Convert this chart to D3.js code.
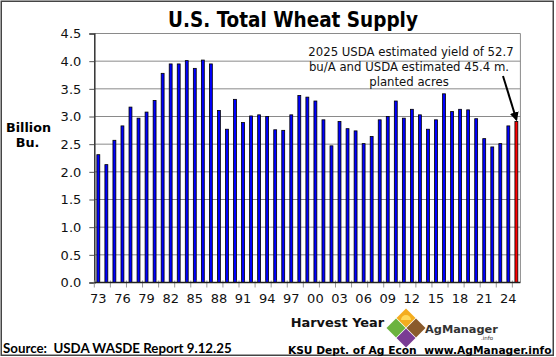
<!DOCTYPE html>
<html><head><meta charset="utf-8">
<script src="https://cdn.jsdelivr.net/npm/d3@7"></script>
<style>body{margin:0;background:#fff}svg{display:block}text{white-space:pre}</style>
</head><body>
<svg id="c" width="556" height="357"></svg>
<script>
const years = ["73","74","75","76","77","78","79","80","81","82","83","84","85","86","87","88","89","90","91","92","93","94","95","96","97","98","99","00","01","02","03","04","05","06","07","08","09","10","11","12","13","14","15","16","17","18","19","20","21","22","23","24","25"];
const supply = [2.31,2.13,2.57,2.83,3.17,2.97,3.08,3.29,3.78,3.95,3.95,4.01,3.87,4.02,3.95,3.11,2.77,3.31,2.89,3.01,3.03,3.00,2.76,2.75,3.03,3.38,3.35,3.28,2.94,2.47,2.91,2.78,2.74,2.51,2.64,2.94,3.00,3.28,2.97,3.13,3.03,2.77,2.94,3.41,3.09,3.13,3.12,2.96,2.60,2.45,2.51,2.83,2.91];
const yTicks = [0,0.5,1.0,1.5,2.0,2.5,3.0,3.5,4.0,4.5];
const xLabels = ["73","76","79","82","85","88","91","94","97","00","03","06","09","12","15","18","21","24"];
const highlightYear = "25";
const titleText = "U.S. Total Wheat Supply";
const yLabelLines = ["Billion","Bu."];
const xTitleText = "Harvest Year";
const noteLines = ["2025 USDA estimated yield of 52.7","bu/A and USDA estimated 45.4 m.","planted acres"];
const sourceText = "Source:  USDA WASDE Report 9.12.25";
const creditText = "KSU Dept. of Ag Econ  www.AgManager.info";

const svg = d3.select("#c");
const L = 94.3, R = 520.4, T = 33.5, B = 282.5;
const x = d3.scaleBand().domain(years).range([L, R]).paddingInner(0.54).paddingOuter(0.27);
const y = d3.scaleLinear().domain([0, 4.5]).range([B, T]);

function fit(sel, w) {
  const l = sel.node().getComputedTextLength();
  const fs = parseFloat(sel.attr("font-size"));
  sel.attr("font-size", fs * w / l);
  return fs * w / l;
}

// outer frame
svg.append("rect").attr("x", 1.25).attr("y", 1.25).attr("width", 552).attr("height", 354)
  .attr("fill", "none").attr("stroke", "#444").attr("stroke-width", 1.5);

// gridlines
svg.append("g").selectAll("line").data(yTicks.filter(d => d > 0)).join("line")
  .attr("x1", L).attr("x2", R).attr("y1", d => y(d)).attr("y2", d => y(d))
  .attr("stroke", "#8a8a8a").attr("stroke-width", 1);
// right border
svg.append("line").attr("x1", R).attr("x2", R).attr("y1", T).attr("y2", B)
  .attr("stroke", "#8a8a8a").attr("stroke-width", 1);

// y axis
const yAxis = d3.axisLeft(y).tickValues(yTicks).tickSize(5).tickPadding(8).tickFormat(d3.format(".1f"));
const gy = svg.append("g").attr("transform", `translate(${L},0)`).call(yAxis);
gy.select(".domain").attr("stroke", "#333").attr("stroke-width", 1.5);
gy.selectAll(".tick line").attr("stroke", "#555");
gy.selectAll(".tick text").attr("font-family", "DejaVu Sans").attr("font-size", 13).attr("fill", "#111");

// bars
svg.append("g").selectAll("rect").data(years.map((yr, i) => ({yr, v: supply[i]}))).join("rect")
  .attr("x", d => x(d.yr) + 0.4)
  .attr("width", x.bandwidth() - 0.8)
  .attr("y", d => y(d.v))
  .attr("height", d => y(0) - y(d.v))
  .attr("fill", d => d.yr === highlightYear ? "#ff0000" : "#0000ff")
  .attr("stroke", "#000").attr("stroke-width", 0.8);

// x axis labels
const xAxis = d3.axisBottom(x).tickValues(xLabels).tickSize(0).tickPadding(11);
const gx = svg.append("g").attr("transform", `translate(0,${B})`).call(xAxis);
gx.select(".domain").remove();
gx.selectAll(".tick text").attr("font-family", "DejaVu Sans").attr("font-size", 13).attr("fill", "#111");
// x tick marks every two categories
const tickPos = d3.range(0, years.length, 2).map(k => L + k * x.step());
svg.append("g").selectAll("line").data(tickPos).join("line")
  .attr("x1", d => d).attr("x2", d => d).attr("y1", B - 2).attr("y2", B + 5)
  .attr("stroke", "#999").attr("stroke-width", 1);
svg.append("line").attr("x1", L).attr("x2", R).attr("y1", B).attr("y2", B)
  .attr("stroke", "#222").attr("stroke-width", 1.5);

// title
const t = svg.append("text").attr("x", 293).attr("y", 26.5).attr("text-anchor", "middle")
  .attr("font-family", "DejaVu Sans Condensed, DejaVu Sans").attr("font-weight", "bold")
  .attr("font-size", 20).attr("fill", "#000").text(titleText);
fit(t, 250);

// y label
const yl1 = svg.append("text").attr("x", 28.5).attr("y", 132).attr("text-anchor", "middle")
  .attr("font-family", "DejaVu Sans").attr("font-weight", "bold").attr("font-size", 13).text(yLabelLines[0]);
const yfs = fit(yl1, 45);
svg.append("text").attr("x", 27.5).attr("y", 147).attr("text-anchor", "middle")
  .attr("font-family", "DejaVu Sans").attr("font-weight", "bold").attr("font-size", yfs).text(yLabelLines[1]);

// note
const noteFont = "DejaVu Sans Condensed, DejaVu Sans";
[56, 71.2, 86.4].forEach((yy, i) => {
  svg.append("text").attr("x", i === 0 ? 411 : 409).attr("y", yy).attr("text-anchor", "middle")
    .attr("font-family", noteFont).attr("font-size", 13).attr("fill", "#111").text(noteLines[i]);
});
// arrow
svg.append("defs").append("marker").attr("id", "ah").attr("viewBox", "0 0 10 10")
  .attr("refX", 8).attr("refY", 5).attr("markerWidth", 4.5).attr("markerHeight", 4.5)
  .attr("orient", "auto").append("path").attr("d", "M0,0 L10,5 L0,10 z").attr("fill", "#000");
const lastYr = years[years.length - 1];
svg.append("line").attr("x1", 503).attr("y1", 76)
  .attr("x2", x(lastYr) + x.bandwidth() / 2).attr("y2", y(supply[supply.length - 1]) - 2)
  .attr("stroke", "#000").attr("stroke-width", 2).attr("marker-end", "url(#ah)");

// x title
const xt = svg.append("text").attr("x", 290.7).attr("y", 327)
  .attr("font-family", "DejaVu Sans").attr("font-weight", "bold").attr("font-size", 13).attr("fill", "#111").text(xTitleText);
fit(xt, 93.6);

// logo
const lg = svg.append("g").attr("transform", "translate(406,328)");
const dm = (cx, cy, r) => `M${cx},${cy - r}L${cx + r},${cy}L${cx},${cy + r}L${cx - r},${cy}Z`;
[[0, -10, "#f4ad1f"], [-10, 0, "#6cb33f"], [10, 0, "#8a5a2c"], [0, 10, "#7a3b94"]].forEach(([cx, cy, c]) => {
  lg.append("path").attr("d", dm(cx, cy, 9.5)).attr("fill", c);
});
lg.append("path").attr("d", "M-5,-8 A5,5 0 0 1 5,-8 Z").attr("fill", "#ffd95a");
const ag = svg.append("text").attr("x", 425).attr("y", 333)
  .attr("font-family", "DejaVu Sans").attr("font-weight", "bold").attr("font-size", 15).attr("fill", "#333").text("AgManager");
fit(ag, 73);
svg.append("text").attr("x", 481).attr("y", 340).attr("font-family", "DejaVu Sans").attr("font-size", 5.5).attr("fill", "#333").text(".info");

// source & credit
const src = svg.append("text").attr("x", 3).attr("y", 353)
  .attr("font-family", "Lato, Open Sans").attr("font-weight", "bold").attr("font-size", 15).attr("fill", "#000").text(sourceText);
fit(src, 229);
const cr = svg.append("text").attr("x", 551.5).attr("y", 354).attr("text-anchor", "end")
  .attr("font-family", "DejaVu Sans").attr("font-weight", "bold").attr("font-size", 11).attr("fill", "#000").text(creditText);
fit(cr, 264);
</script>
</body></html>
